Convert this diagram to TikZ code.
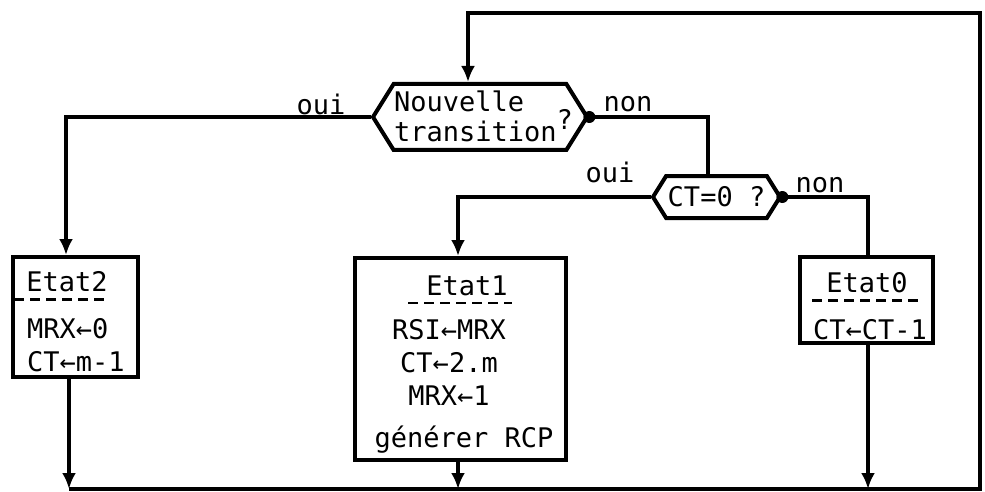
\documentclass[tikz,border=0pt]{standalone}
\usepackage{fontspec}
\setmonofont{DejaVu Sans Mono}
\usetikzlibrary{positioning}
\usetikzlibrary{shapes.symbols}
\usetikzlibrary{arrows.meta}

\begin{document}
\begin{tikzpicture}[
    x=0.5pt, y=-0.5pt,
    font=\ttfamily\fontsize{13.5}{15}\selectfont,
    line width=2pt,
    testbox/.style={signal,signal to=west and east,signal pointer angle=116,draw,inner sep=0pt},
    statebox/.style={rectangle,draw,inner sep=0pt},
    heading/.style={inner sep=0pt},
    bodytext/.style={inner sep=0pt,font=\ttfamily\fontsize{13.5}{16.5}\selectfont},
    answer/.style={inner sep=1pt},
    bar/.style={line width=1.3pt,dash pattern=on 5pt off 3pt},
    arrow/.style={-{Latex[length=8pt,width=7pt]}}
]
\useasboundingbox (0,0) rectangle (985,492);

\node[testbox,minimum width=107pt,minimum height=33pt] (q1) at (480,117)
    {\raisebox{-5.3pt}[0pt][0pt]{\makebox[86pt][l]{\begin{tabular}{@{}l@{}}Nouvelle\\transition\end{tabular}\raisebox{-1pt}{?}}}};
\node[testbox,minimum width=63.5pt,minimum height=21pt] (q2) at (716.5,197) {CT=0 ?};

\node[statebox,minimum width=62.5pt,minimum height=60pt] (e2) at (75.5,317) {};
\node[statebox,minimum width=105.5pt,minimum height=101pt] (e1) at (460.5,359) {};
\node[statebox,minimum width=66.5pt,minimum height=43pt] (e0) at (866.5,300) {};

\node[heading] (e2t) at (67,282) {Etat2};
\node[bodytext,anchor=west,align=left] (e2b) at (25,345) {MRX←0\\CT←m-1};
\node[heading] (e1t) at (467,286) {Etat1};
\node[bodytext,align=center] (e1b) at (449,362) {RSI←MRX\\CT←2.m\\MRX←1};
\node[heading] (e1g) at (464,440) {générer RCP};
\node[heading] (e0t) at (867,283) {Etat0};
\node[bodytext] (e0b) at (870,330) {CT←CT-1};

\node[answer] (oui1) at (321,106) {\underline{oui}};
\node[answer] (non1) at (628,104) {non};
\node[answer] (oui2) at (610,172) {oui};
\node[answer] (non2) at (820,185) {non};

\coordinate (top1) at (468,13);
\coordinate (topr) at (980,13);
\coordinate (botr) at (980,489);
\coordinate (botl) at (69,489);
\coordinate (j2) at (66,0);
\coordinate (j5) at (69,0);
\coordinate (j1) at (708,0);
\coordinate (j3) at (458,0);
\coordinate (j4) at (868,0);

\draw[bar] ([xshift=-5pt,yshift=-2.5pt]e2t.south west) -- ([yshift=-2.5pt]e2t.south east);
\draw[bar] ([xshift=-8pt,yshift=-2.5pt]e1t.south west) -- ([xshift=1pt,yshift=-2.5pt]e1t.south east);
\draw[bar] ([xshift=-6pt,yshift=-2.5pt]e0t.south west) -- ([xshift=4pt,yshift=-2.5pt]e0t.south east);

\draw[arrow] (botl) -- (botr) -- (topr) -- (top1) -- (top1 |- q1.north);
\draw[arrow] (q1.west) -| (j2 |- e2.north);
\draw (q1.east) -| (j1 |- q2.north);
\draw[arrow] (q2.west) -| (j3 |- e1.north);
\draw (q2.east) -| (j4 |- e0.north);
\draw[arrow] (j5 |- e2.south) -- (j5 |- botl);
\draw[arrow] (j3 |- e1.south) -- (j3 |- botl);
\draw[arrow] (j4 |- e0.south) -- (j4 |- botl);
\fill (q1.east) circle (3pt);
\fill (q2.east) circle (3pt);
\end{tikzpicture}
\end{document}
